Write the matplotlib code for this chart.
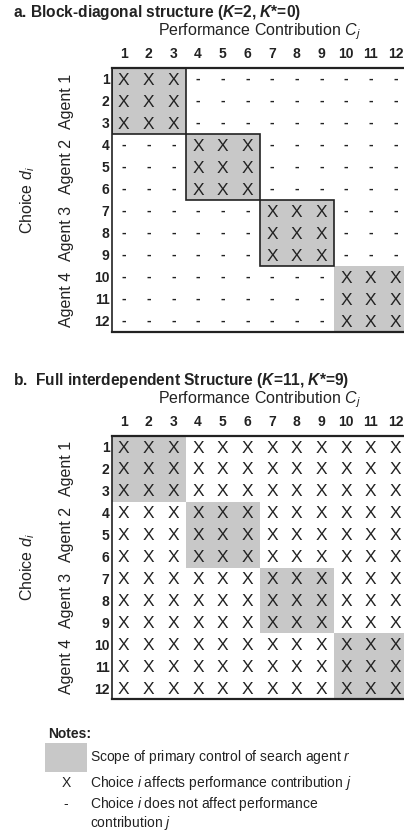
import matplotlib
matplotlib.use("Agg")
import matplotlib.pyplot as plt
from matplotlib.patches import Rectangle
import numpy as np

plt.rcParams['font.family'] = ['Liberation Sans', 'DejaVu Sans']
plt.rcParams['mathtext.fontset'] = 'custom'
plt.rcParams['mathtext.rm'] = 'Liberation Sans'
plt.rcParams['mathtext.it'] = 'Liberation Sans:italic'
plt.rcParams['mathtext.bf'] = 'Liberation Sans:bold'
plt.rcParams['mathtext.bfit'] = 'Liberation Sans:italic:bold'

#Data
choice_labels = [str(i) for i in range(1, 13)]
contrib_labels = [str(i) for i in range(1, 13)]
agent_names = ["Agent 1", "Agent 2", "Agent 3", "Agent 4"]
agent_start = [0, 3, 6, 9]
agent_size = [3, 3, 3, 3]

#X = choice i affects contribution j, - = does not
matrix_a = [
	"XXX---------",
	"XXX---------",
	"XXX---------",
	"---XXX------",
	"---XXX------",
	"---XXX------",
	"------XXX---",
	"------XXX---",
	"------XXX---",
	"---------XXX",
	"---------XXX",
	"---------XXX",
]
matrix_b = ["XXXXXXXXXXXX"] * 12

title_a = r"a. Block-diagonal structure ($\mathbfit{K}$=2, $\mathbfit{K}$*=0)"
title_b = r"b.  Full interdependent Structure ($\mathbfit{K}$=11, $\mathbfit{K}$*=9)"
outlined_a = [True, True, True, False]
outlined_b = [False, False, False, False]

W, H = 404, 831
gris = "#c8c8c8"
encre = "#222222"

fig = plt.figure(figsize=(W / 100, H / 100), dpi=100)

def fx(x):
	return x / W
def fy(y):
	return 1 - y / H

cell_w = 24.7
def dessineGrille(mat, top, bottom, titre, titre_y, outlined):
	left = 111.5
	right = left + 12 * cell_w
	ax = fig.add_axes([fx(left), fy(bottom), (right - left) / W, (bottom - top) / H])
	ax.set_xlim(0, 12)
	ax.set_ylim(12, 0)
	#shaded scope of each agent
	for k in range(len(agent_names)):
		s = agent_start[k]
		n = agent_size[k]
		ax.add_patch(Rectangle((s, s), n, n, facecolor=gris, edgecolor='none', zorder=0))
		if outlined[k]:
			ax.add_patch(Rectangle((s, s), n, n, facecolor='none', edgecolor=encre, lw=1.2, zorder=3))
	#the marks
	for i in range(len(mat)):
		for j in range(len(mat[i])):
			if mat[i][j] == "X":
				ax.text(j + 0.5, i + 0.55, "X", ha='center', va='center', fontsize=12.5, color=encre)
			else:
				ax.text(j + 0.5, i + 0.5, "-", ha='center', va='center', fontsize=10, fontweight='bold', color=encre)
	ax.set_xticks(np.arange(12) + 0.5)
	ax.set_xticklabels(contrib_labels, fontsize=10, fontweight='bold')
	ax.set_yticks(np.arange(12) + 0.5)
	ax.set_yticklabels(choice_labels, fontsize=10, fontweight='bold')
	ax.xaxis.tick_top()
	ax.tick_params(axis='x', length=0, pad=5, colors=encre)
	ax.tick_params(axis='y', length=0, pad=1.5, colors=encre)
	ax.spines['right'].set_visible(False)
	ax.spines['top'].set_linewidth(1.6)
	ax.spines['bottom'].set_linewidth(1.6)
	ax.spines['left'].set_linewidth(1.2)
	for sp in ['top', 'bottom', 'left']:
		ax.spines[sp].set_color(encre)
	#agent labels
	row_h = (bottom - top) / 12
	for k in range(len(agent_names)):
		yc = top + (agent_start[k] + agent_size[k] / 2) * row_h
		fig.text(fx(66), fy(yc), agent_names[k], rotation=90, ha='center', va='center', fontsize=11.5, color=encre)
	fig.text(fx(28), fy((top + bottom) / 2), r"Choice $d_i$", rotation=90, ha='center', va='center', fontsize=11.5, color=encre)
	fig.text(fx((left + right) / 2), fy(top - 36), r"Performance Contribution $C_j$", ha='center', va='center', fontsize=11.5, color=encre)
	fig.text(fx(13), fy(titre_y), titre, ha='left', va='center', fontsize=11.2, fontweight='bold', color=encre)
	return ax

dessineGrille(matrix_a, 68, 332, title_a, 12, outlined_a)
dessineGrille(matrix_b, 436, 699, title_b, 380, outlined_b)

#Notes
fig.text(fx(48), fy(734), "Notes:", ha='left', va='center', fontsize=10, fontweight='bold', color=encre)
fig.patches.append(Rectangle((fx(45), fy(772)), 42 / W, 29 / H, transform=fig.transFigure, facecolor=gris, edgecolor='none'))
fig.text(fx(90), fy(757), r"Scope of primary control of search agent $r$", ha='left', va='center', fontsize=10, color=encre)
fig.text(fx(66), fy(783), "X", ha='center', va='center', fontsize=10, color=encre)
fig.text(fx(90), fy(783), r"Choice $i$ affects performance contribution $j$", ha='left', va='center', fontsize=10, color=encre)
fig.text(fx(66), fy(804), "-", ha='center', va='center', fontsize=10, color=encre)
fig.text(fx(90), fy(804), r"Choice $i$ does not affect performance", ha='left', va='center', fontsize=10, color=encre)
fig.text(fx(90), fy(823), r"contribution $j$", ha='left', va='center', fontsize=10, color=encre)

plt.savefig("out.png", dpi=100)
